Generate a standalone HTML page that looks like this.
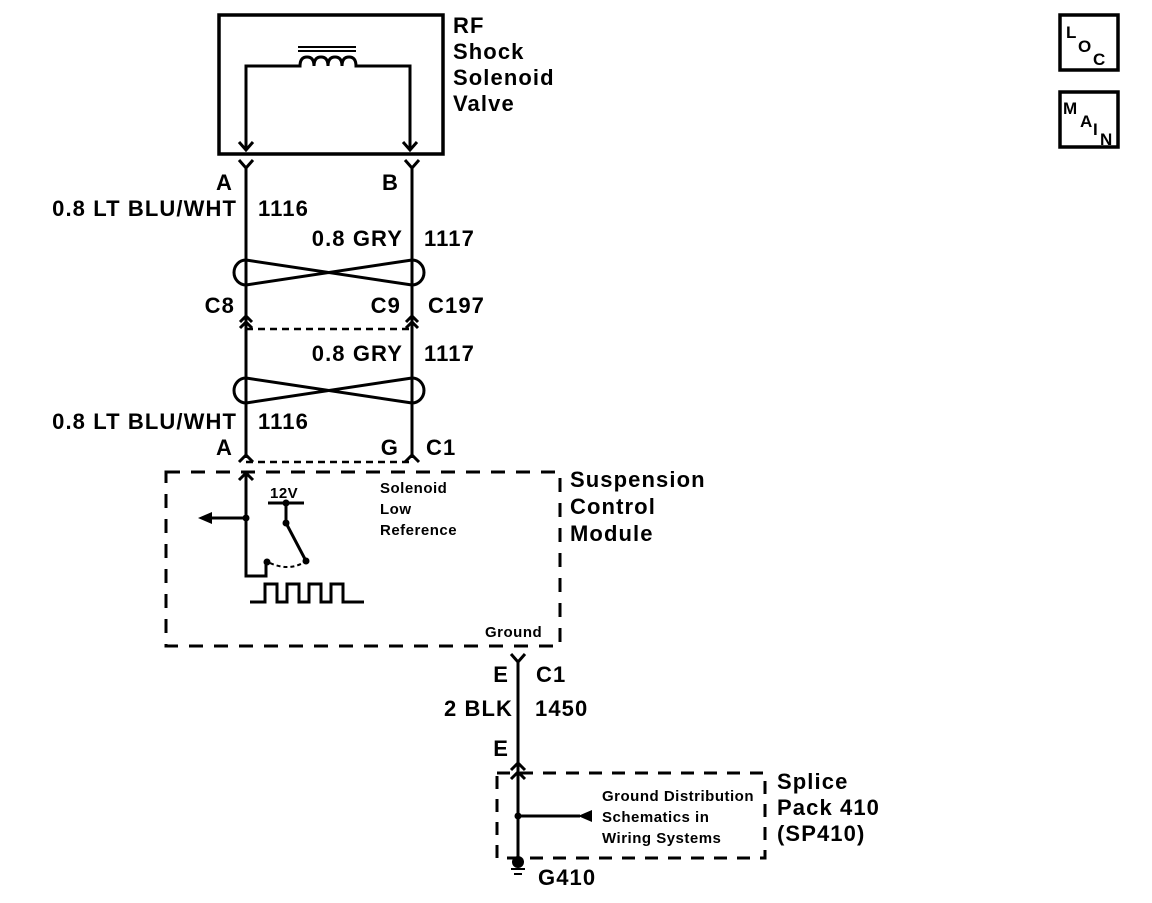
<!DOCTYPE html>
<html><head><style>
body{margin:0;background:#fff;width:1152px;height:898px;overflow:hidden}
svg text{font-family:"Liberation Sans",Arial,sans-serif;font-weight:bold;fill:#000}
.b{font-size:22px;letter-spacing:1.1px}.s{font-size:15px;letter-spacing:0.5px}
</style></head><body>
<svg width="1152" height="898" viewBox="0 0 1152 898" xmlns="http://www.w3.org/2000/svg">
<g fill="none" stroke="#000" stroke-width="3">
<rect x="219" y="15" width="224" height="139" stroke-width="3.5"/>
<line x1="298" y1="47" x2="356" y2="47" stroke-width="2"/>
<line x1="298" y1="51" x2="356" y2="51" stroke-width="2"/>
<path d="M246 150 V66 H300 q0-9 7-9 q7 0 7 9 q0-9 7-9 q7 0 7 9 q0-9 7-9 q7 0 7 9 q0-9 7-9 q7 0 7 9 H410 V150" />
<path d="M239 142 L246 150 L253 142 M403 142 L410 150 L417 142"/>
<path d="M239 160 L246 168 L253 160 M405 160 L412 168 L419 160"/>
<line x1="246" y1="168" x2="246" y2="458"/>
<line x1="412" y1="168" x2="412" y2="458"/>
<path d="M246 260 L412 285 M246 285 L412 260"/>
<path d="M246 260 A12 12.5 0 0 0 246 285 M412 260 A12 12.5 0 0 1 412 285"/>
<path d="M246 378 L412 403 M246 403 L412 378"/>
<path d="M246 378 A12 12.5 0 0 0 246 403 M412 378 A12 12.5 0 0 1 412 403"/>
<path d="M240 322 L246 316 L252 322 M240 328 L246 322 L252 328 M406 322 L412 316 L418 322 M406 328 L412 322 L418 328"/>
<line x1="246" y1="329" x2="412" y2="329" stroke-dasharray="7,5" stroke-width="2.5"/>
<path d="M239 462 L246 455 L253 462 M405 462 L412 455 L419 462"/>
<line x1="246" y1="462" x2="412" y2="462" stroke-dasharray="7,5" stroke-width="2.5"/>
<rect x="166" y="472" width="394" height="174" stroke-width="3" stroke-dasharray="14,11"/>
<path d="M239 480 L246 473 L253 480"/>
<path d="M246 473 V576 H266 V562"/>
<line x1="246" y1="518" x2="208" y2="518"/>
<path d="M268 503 H304 M286 503 V523 L306 561"/>
<path d="M270 563 Q290 572 306 561" stroke-dasharray="4,3" stroke-width="2"/>
<path d="M250 602 H265 V584 H277 V602 H287 V584 H299 V602 H309 V584 H321 V602 H331 V584 H343 V602 H364"/>
<path d="M511 654 L518 662 L525 654"/>
<line x1="518" y1="662" x2="518" y2="858"/>
<path d="M511 770 L518 763 L525 770 M511 779 L518 772 L525 779"/>
<rect x="497" y="773" width="268" height="85" stroke-width="3" stroke-dasharray="13,10"/>
<line x1="518" y1="816" x2="580" y2="816"/>
<line x1="511" y1="869" x2="525" y2="869" stroke-width="2"/>
<line x1="514" y1="874" x2="522" y2="874" stroke-width="2"/>
<rect x="1060" y="15" width="58" height="55" stroke-width="3.5"/>
<rect x="1060" y="92" width="58" height="55" stroke-width="3.5"/>
</g>
<g fill="#000">
<circle cx="246" cy="518" r="3.5"/><circle cx="286" cy="503" r="3.5"/><circle cx="286" cy="523" r="3.5"/>
<circle cx="306" cy="561" r="3.5"/><circle cx="267" cy="562" r="3.5"/>
<polygon points="198,518 212,512 212,524"/>
<circle cx="518" cy="816" r="3.5"/>
<polygon points="578,816 592,810 592,822"/>
<circle cx="518" cy="862" r="6"/>
</g>
<text class="b" x="453" y="33">RF</text>
<text class="b" x="453" y="59">Shock</text>
<text class="b" x="453" y="85">Solenoid</text>
<text class="b" x="453" y="111">Valve</text>
<text class="b" x="233" y="190" text-anchor="end">A</text>
<text class="b" x="399" y="190" text-anchor="end">B</text>
<text class="b" x="237" y="216" text-anchor="end">0.8 LT BLU/WHT</text>
<text class="b" x="258" y="216">1116</text>
<text class="b" x="403" y="246" text-anchor="end">0.8 GRY</text>
<text class="b" x="424" y="246">1117</text>
<text class="b" x="235" y="313" text-anchor="end">C8</text>
<text class="b" x="401" y="313" text-anchor="end">C9</text>
<text class="b" x="428" y="313">C197</text>
<text class="b" x="403" y="361" text-anchor="end">0.8 GRY</text>
<text class="b" x="424" y="361">1117</text>
<text class="b" x="237" y="429" text-anchor="end">0.8 LT BLU/WHT</text>
<text class="b" x="258" y="429">1116</text>
<text class="b" x="233" y="455" text-anchor="end">A</text>
<text class="b" x="399" y="455" text-anchor="end">G</text>
<text class="b" x="426" y="455">C1</text>
<text class="s" x="380" y="493">Solenoid</text>
<text class="s" x="380" y="514">Low</text>
<text class="s" x="380" y="535">Reference</text>
<text class="s" x="270" y="498">12V</text>
<text class="s" x="485" y="637">Ground</text>
<text class="b" x="570" y="487">Suspension</text>
<text class="b" x="570" y="514">Control</text>
<text class="b" x="570" y="541">Module</text>
<text class="b" x="509" y="682" text-anchor="end">E</text>
<text class="b" x="536" y="682">C1</text>
<text class="b" x="513" y="716" text-anchor="end">2 BLK</text>
<text class="b" x="535" y="716">1450</text>
<text class="b" x="509" y="756" text-anchor="end">E</text>
<text class="s" x="602" y="801">Ground Distribution</text>
<text class="s" x="602" y="822">Schematics in</text>
<text class="s" x="602" y="843">Wiring Systems</text>
<text class="b" x="777" y="789">Splice</text>
<text class="b" x="777" y="815">Pack 410</text>
<text class="b" x="777" y="841">(SP410)</text>
<text class="b" x="538" y="885">G410</text>
<text class="s" x="1066" y="38" style="font-size:17px">L</text><text class="s" x="1078" y="52" style="font-size:17px">O</text><text class="s" x="1093" y="65" style="font-size:17px">C</text>
<text class="s" x="1063" y="114" style="font-size:17px">M</text><text class="s" x="1080" y="127" style="font-size:17px">A</text><text class="s" x="1093" y="135" style="font-size:17px">I</text><text class="s" x="1100" y="145" style="font-size:17px">N</text>
</svg>
</body></html>
